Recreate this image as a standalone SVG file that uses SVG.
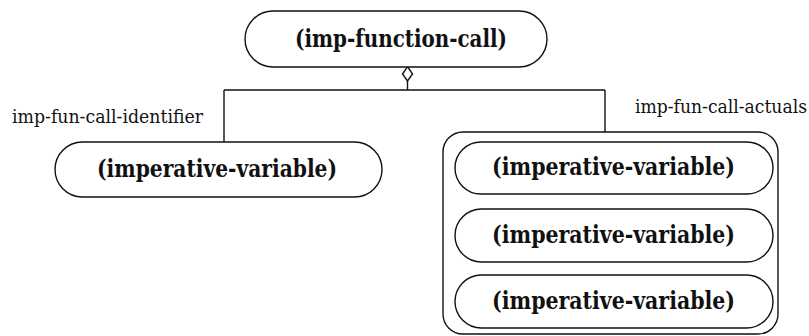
<svg xmlns="http://www.w3.org/2000/svg" width="809" height="336" viewBox="0 0 809 336">
<style>
.shape{fill:#fff;stroke:#111;stroke-width:1.4}
.lbl{font-family:"DejaVu Serif Condensed","DejaVu Serif",serif;font-weight:bold;font-size:24px;fill:#111;text-anchor:middle}
.role{font-family:"DejaVu Serif Condensed","DejaVu Serif",serif;font-size:19px;fill:#111}
.conn{fill:none;stroke:#111;stroke-width:1.4}
</style>
<rect width="809" height="336" fill="#fff"/>
<g id="connectors">
<path class="conn" d="M407.5,81 V90 M224,90 H605 M224,90 V142 M605,90 V132"/>
<path class="conn" d="M407.5,66.7 L412.5,74 L407.5,81 L402.5,74 Z" fill="#fff"/>
<text class="role" x="12" y="123" textLength="191" lengthAdjust="spacingAndGlyphs">imp-fun-call-identifier</text>
<text class="role" x="635" y="113" textLength="172" lengthAdjust="spacingAndGlyphs">imp-fun-call-actuals</text>
</g>
<g id="imp-function-call">
<rect class="shape" x="245" y="11" width="302" height="56" rx="28" ry="28"/>
<text class="lbl" x="401" y="47" textLength="212" lengthAdjust="spacingAndGlyphs">(imp-function-call)</text>
</g>
<g id="imp-fun-call-identifier-node">
<rect class="shape" x="55" y="142" width="327" height="55" rx="27.5" ry="27.5"/>
<text class="lbl" x="217" y="177" textLength="240" lengthAdjust="spacingAndGlyphs">(imperative-variable)</text>
</g>
<g id="imp-fun-call-actuals-node">
<rect class="shape" x="443" y="132" width="335" height="202" rx="20" ry="20"/>
<g id="actual-1">
<rect class="shape" x="455" y="142" width="318" height="52" rx="26" ry="26"/>
<text class="lbl" x="613.5" y="175" textLength="243" lengthAdjust="spacingAndGlyphs">(imperative-variable)</text>
</g>
<g id="actual-2">
<rect class="shape" x="455" y="209" width="318" height="53" rx="26.5" ry="26.5"/>
<text class="lbl" x="613.5" y="243" textLength="243" lengthAdjust="spacingAndGlyphs">(imperative-variable)</text>
</g>
<g id="actual-3">
<rect class="shape" x="455" y="275" width="318" height="53" rx="26.5" ry="26.5"/>
<text class="lbl" x="613.5" y="309" textLength="243" lengthAdjust="spacingAndGlyphs">(imperative-variable)</text>
</g>
</g>
</svg>
